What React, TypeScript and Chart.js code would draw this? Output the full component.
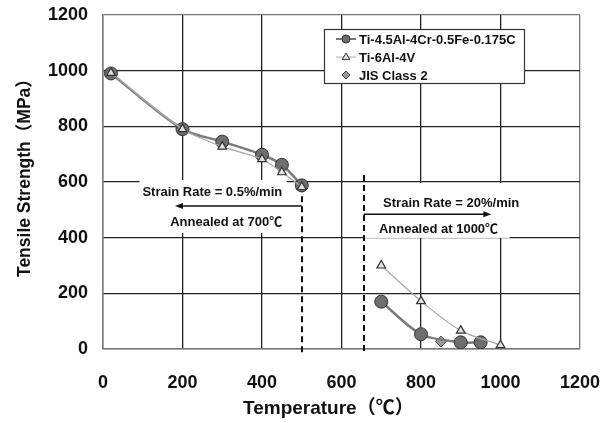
import React, { useEffect, useRef } from "react";
import { Chart, registerables } from "chart.js";

Chart.register(...registerables);

const FONT = '"Liberation Sans", "Noto Sans CJK JP", sans-serif';

// ---- data ----
const alloyLowTemp = [20, 200, 300, 400, 450, 500];
const alloyLowStrength = [990, 790, 745, 698, 662, 588];
const alloyHighTemp = [700, 800, 900, 950];
const alloyHighStrength = [170, 53, 24, 24];

const ti64LowTemp = [20, 200, 300, 400, 450, 500];
const ti64LowStrength = [992, 790, 727, 682, 635, 582];
const ti64HighTemp = [700, 800, 900, 1000];
const ti64HighStrength = [300, 172, 66, 14];

const jisTemp = [850];
const jisStrength = [27];

const seriesNames = ["Ti-4.5Al-4Cr-0.5Fe-0.175C", "Ti-6Al-4V", "JIS Class 2"];
const xTitle = "Temperature（℃）";
const yTitle = "Tensile Strength（MPa）";

const axisMin = 0;
const axisMax = 1200;
const axisStep = 200;

// annotations (data coordinates)
const dashedX = [500, 656];
const dashedTop = [585, 625];
const arrowY = [514, 484];
const arrowFrom = [500, 656];
const arrowTo = [181, 977];
const boxX0 = [92, 658];
const boxX1 = [462, 1023];
const boxY0 = [607, 596];
const boxY1 = [417, 399];
const noteTextA = ["Strain Rate = 0.5%/min", "Strain Rate = 20%/min"];
const noteTextB = ["Annealed at 700℃", "Annealed at 1000℃"];
const noteAx = [275, 876];
const noteAy = [562, 523];
const noteBx = [310, 844];
const noteBy = [454, 431];

function pts(t: number[], s: number[]) {
  return t.map((x, i) => ({ x, y: s[i] }));
}
function joined(t1: number[], s1: number[], t2: number[], s2: number[]) {
  return [
    ...pts(t1, s1),
    { x: (t1[t1.length - 1] + t2[0]) / 2, y: null as any },
    ...pts(t2, s2),
  ];
}

function drawMarker(ctx: CanvasRenderingContext2D, kind: string, cx: number, cy: number, r: number) {
  ctx.beginPath();
  if (kind === "circle") {
    ctx.arc(cx, cy, r, 0, Math.PI * 2);
    ctx.fillStyle = "#6e6e6e";
    ctx.strokeStyle = "#333";
  } else if (kind === "triangle") {
    ctx.moveTo(cx, cy - r);
    ctx.lineTo(cx + r * 0.95, cy + r * 0.65);
    ctx.lineTo(cx - r * 0.95, cy + r * 0.65);
    ctx.closePath();
    ctx.fillStyle = "#e0e0e0";
    ctx.strokeStyle = "#333";
  } else {
    ctx.moveTo(cx, cy - r);
    ctx.lineTo(cx + r, cy);
    ctx.lineTo(cx, cy + r);
    ctx.lineTo(cx - r, cy);
    ctx.closePath();
    ctx.fillStyle = "#9a9a9a";
    ctx.strokeStyle = "#444";
  }
  ctx.lineWidth = 1;
  ctx.fill();
  ctx.stroke();
}

const annotations = {
  id: "annotations",
  beforeDatasetsDraw(chart: any) {
    const { ctx, chartArea, scales } = chart;
    const xs = scales.x;
    const ys = scales.y;
    ctx.save();
    // white text boxes
    ctx.fillStyle = "#ffffff";
    for (let i = 0; i < boxX0.length; i++) {
      const x0 = xs.getPixelForValue(boxX0[i]);
      const x1 = xs.getPixelForValue(boxX1[i]);
      const y0 = ys.getPixelForValue(boxY0[i]);
      const y1 = ys.getPixelForValue(boxY1[i]);
      ctx.fillRect(x0, y0, x1 - x0, y1 - y0);
    }
    // dashed lines
    ctx.setLineDash([6, 4]);
    ctx.lineWidth = 2;
    ctx.strokeStyle = "#111";
    for (let i = 0; i < dashedX.length; i++) {
      const px = Math.round(xs.getPixelForValue(dashedX[i]));
      ctx.beginPath();
      ctx.moveTo(px, ys.getPixelForValue(dashedTop[i]));
      ctx.lineTo(px, chartArea.bottom + 6);
      ctx.stroke();
    }
    ctx.setLineDash([]);
    // arrows
    ctx.lineWidth = 1.5;
    ctx.fillStyle = "#111";
    for (let i = 0; i < arrowY.length; i++) {
      const py = ys.getPixelForValue(arrowY[i]);
      const a = xs.getPixelForValue(arrowFrom[i]);
      const b = xs.getPixelForValue(arrowTo[i]);
      const dir = b > a ? 1 : -1;
      ctx.beginPath();
      ctx.moveTo(a, py);
      ctx.lineTo(b - dir * 6, py);
      ctx.stroke();
      ctx.beginPath();
      ctx.moveTo(b, py);
      ctx.lineTo(b - dir * 8, py - 3);
      ctx.lineTo(b - dir * 8, py + 3);
      ctx.closePath();
      ctx.fill();
    }
    // texts
    ctx.fillStyle = "#111";
    ctx.font = `bold 13px ${FONT}`;
    ctx.textAlign = "center";
    ctx.textBaseline = "middle";
    for (let i = 0; i < noteTextA.length; i++) {
      ctx.fillText(noteTextA[i], xs.getPixelForValue(noteAx[i]), ys.getPixelForValue(noteAy[i]));
      ctx.fillText(noteTextB[i], xs.getPixelForValue(noteBx[i]), ys.getPixelForValue(noteBy[i]));
    }
    ctx.restore();
  },
  afterDraw(chart: any) {
    const { ctx, chartArea } = chart;
    ctx.save();
    // axis titles
    ctx.fillStyle = "#111";
    ctx.font = `bold 19px ${FONT}`;
    ctx.textAlign = "left";
    ctx.textBaseline = "middle";
    ctx.fillText(xTitle, chartArea.left + 140, chartArea.bottom + 60);

    ctx.save();
    ctx.translate(25, chartArea.bottom - 72);
    ctx.rotate(-Math.PI / 2);
    ctx.font = `bold 17.5px ${FONT}`;
    ctx.textAlign = "left";
    ctx.textBaseline = "middle";
    ctx.fillText(yTitle, 0, 0);
    ctx.restore();

    // legend
    const left = chartArea.right - 256;
    const top = chartArea.top + 14;
    const w = 200;
    const h = 54;
    ctx.fillStyle = "#fff";
    ctx.fillRect(left, top, w, h);
    ctx.strokeStyle = "#333";
    ctx.lineWidth = 1.2;
    ctx.strokeRect(left + 0.5, top + 0.5, w, h);
    const kinds = ["circle", "triangle", "diamond"];
    const lineColors = ["#777", "#aaa", ""];
    const lineWidths = [2, 1, 0];
    ctx.font = `bold 13px ${FONT}`;
    ctx.textAlign = "left";
    ctx.textBaseline = "middle";
    for (let i = 0; i < 3; i++) {
      const cy = top + 10 + i * 18;
      const cx = left + 22;
      if (lineColors[i]) {
        ctx.strokeStyle = lineColors[i];
        ctx.lineWidth = lineWidths[i];
        ctx.beginPath();
        ctx.moveTo(cx - 10, cy);
        ctx.lineTo(cx + 10, cy);
        ctx.stroke();
      }
      drawMarker(ctx, kinds[i], cx, cy, 4);
      ctx.fillStyle = "#111";
      ctx.fillText(seriesNames[i], left + 35, cy + 1);
    }
    ctx.restore();
  },
};

function noPad(s: any) {
  s.paddingTop = 0;
  s.paddingBottom = 0;
  s.paddingLeft = 0;
  s.paddingRight = 0;
}

export default function App() {
  const ref = useRef<HTMLCanvasElement | null>(null);
  useEffect(() => {
    if (!ref.current) return;
    const frameOrGrid = (ctx: any) =>
      ctx.tick && (ctx.tick.value === axisMin || ctx.tick.value === axisMax) ? "#777" : "#222";
    const chart = new Chart(ref.current, {
      type: "scatter",
      data: {
        datasets: [
          {
            label: seriesNames[1],
            data: joined(ti64LowTemp, ti64LowStrength, ti64HighTemp, ti64HighStrength),
            showLine: true,
            spanGaps: false,
            borderColor: "#a8a8a8",
            borderWidth: 1.2,
            tension: 0.3,
            pointStyle: "triangle",
            pointRadius: 5,
            pointBackgroundColor: "#e0e0e0",
            pointBorderColor: "#333",
            pointBorderWidth: 1.2,
          },
          {
            label: seriesNames[0],
            data: joined(alloyLowTemp, alloyLowStrength, alloyHighTemp, alloyHighStrength),
            showLine: true,
            spanGaps: false,
            borderColor: "#7a7a7a",
            borderWidth: 2.5,
            tension: 0.3,
            pointStyle: "circle",
            pointRadius: 6.5,
            pointBackgroundColor: "#6e6e6e",
            pointBorderColor: "#333",
            pointBorderWidth: 1,
          },
          {
            label: seriesNames[2],
            data: pts(jisTemp, jisStrength),
            showLine: false,
            pointStyle: "rectRot",
            pointRadius: 5.5,
            pointBackgroundColor: "#9a9a9a",
            pointBorderColor: "#444",
            pointBorderWidth: 1,
          },
        ],
      },
      options: {
        responsive: false,
        animation: false,
        layout: { autoPadding: false, padding: { left: 0, right: 33, top: 15, bottom: 0 } },
        plugins: {
          legend: { display: false },
          tooltip: { enabled: false },
        },
        scales: {
          x: {
            type: "linear",
            min: axisMin,
            max: axisMax,
            afterFit: (s: any) => {
              s.height = 74;
              noPad(s);
            },
            ticks: {
              stepSize: axisStep,
              color: "#111",
              font: { family: FONT, size: 18, weight: "bold" },
              padding: 23,
              callback: (v: any) => String(v),
            },
            grid: { color: frameOrGrid, lineWidth: 1.3, drawTicks: false },
            border: { display: true, color: "#777", width: 1.5 },
            title: { display: false, text: xTitle },
          },
          y: {
            type: "linear",
            min: axisMin,
            max: axisMax,
            afterFit: (s: any) => {
              s.width = 103;
              noPad(s);
            },
            ticks: {
              stepSize: axisStep,
              color: "#111",
              font: { family: FONT, size: 18, weight: "bold" },
              padding: 15,
              callback: (v: any) => String(v),
            },
            grid: { color: frameOrGrid, lineWidth: 1.3, drawTicks: false },
            border: { display: true, color: "#777", width: 1.5 },
            title: { display: false, text: yTitle },
          },
        },
      },
      plugins: [annotations],
    });
    return () => chart.destroy();
  }, []);
  return (
    <div style={{ position: "absolute", left: 0, top: 0, width: 613, height: 423, background: "#fff" }}>
      <canvas ref={ref} width={613} height={423} />
    </div>
  );
}
